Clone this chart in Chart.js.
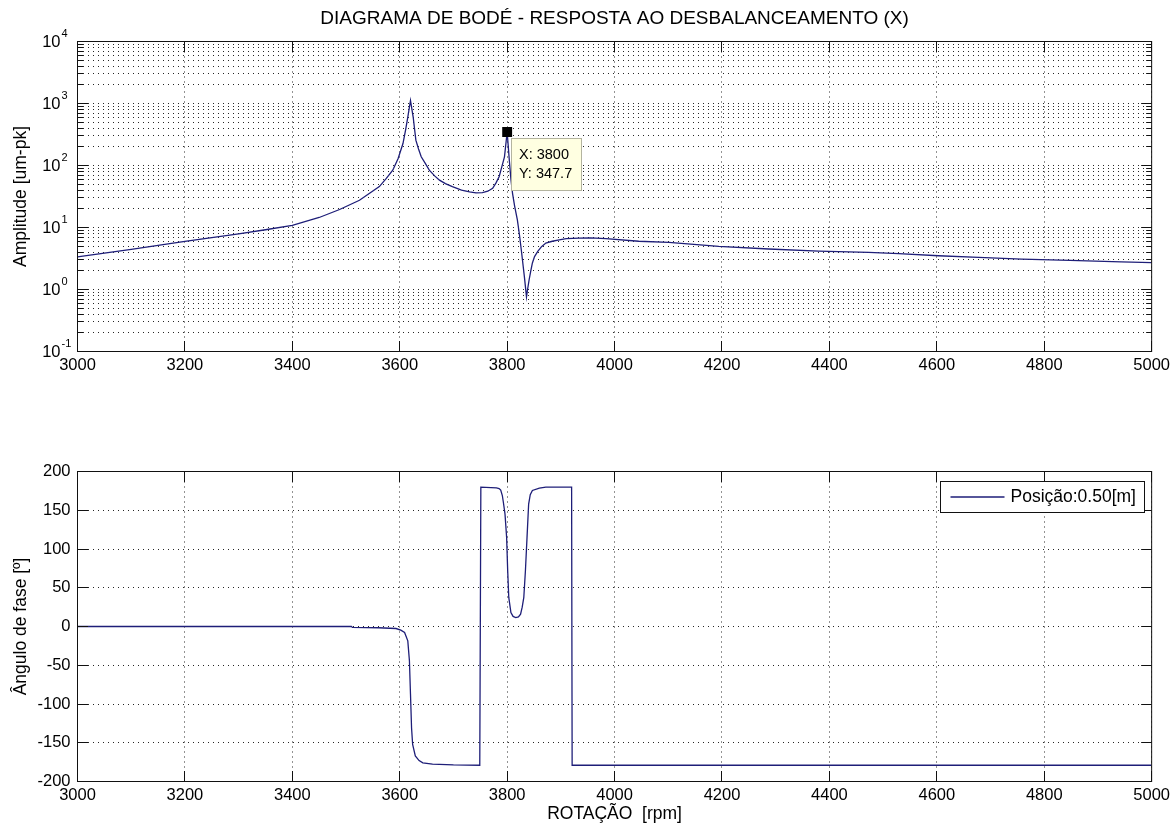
<!DOCTYPE html>
<html lang="pt">
<head>
<meta charset="utf-8">
<title>Diagrama de Bodé</title>
<script src="https://cdn.jsdelivr.net/npm/chart.js@4.4.1/dist/chart.umd.min.js"></script>
<style>
html,body{margin:0;padding:0;background:#fff;overflow:hidden}
#wrap{position:relative;width:1174px;height:829px;background:#fff}
canvas{position:absolute;left:0;display:block}
#top{top:0}
#bottom{top:400px}
</style>
</head>
<body>
<div id="wrap">
<canvas id="top" width="1174" height="400"></canvas>
<canvas id="bottom" width="1174" height="429"></canvas>
</div>
<script>
// ---- texts ----
const chartTitle = 'DIAGRAMA DE BODÉ - RESPOSTA AO DESBALANCEAMENTO (X)';
const ampAxisTitle = 'Amplitude [um-pk]';
const phaseAxisTitle = 'Ângulo de fase [º]';
const rpmAxisTitle = 'ROTAÇÃO  [rpm]';
const seriesLabel = 'Posição:0.50[m]';

// ---- ticks ----
const rpmTicks = [3000, 3200, 3400, 3600, 3800, 4000, 4200, 4400, 4600, 4800, 5000];
const ampDecades = [-1, 0, 1, 2, 3, 4];
const phaseTicks = [-200, -150, -100, -50, 0, 50, 100, 150, 200];

// ---- amplitude series ----
const ampRpm = [3000,3050,3100,3150,3200,3250,3300,3350,3400,3450,3488,3525,3562,3575,3587,3597,3606,3611,3615,3620,3625,3630,3635,3640,3647,3655,3665,3674,3685,3698,3715,3730,3742,3754,3764,3773,3779,3785,3790,3795,3800,3804,3807,3810,3814,3819,3823,3827,3832,3836,3838,3841,3844,3847,3851,3857,3864,3872,3884,3897,3910,3934,3955,3984,4045,4101,4194,4287,4380,4473,4529,4603,4678,4758,4848,4943,5000];
const ampValues = [3.35,3.85,4.45,5.15,5.95,6.85,7.9,9.2,10.8,14.5,19.5,27.5,45.7,62,84,130,226,380,605,1120,605,256,185,138,110,84,68,58,51,45.5,40,37.4,36.3,36.5,38.5,42.9,52,66,95,138,347.7,122,60,35.6,22,13.3,7.5,3.88,1.63,0.76,1.0,1.45,2.0,2.68,3.4,4.12,4.9,5.6,6.0,6.3,6.6,6.76,6.8,6.6,6.0,5.74,4.95,4.5,4.17,3.97,3.8,3.5,3.3,3.1,2.95,2.78,2.72];

// ---- phase series ----
const phaseRpm = [3000,3510,3512,3560,3593,3602,3609,3615,3618,3620,3622,3624,3629,3636,3643,3661,3700,3749,3751,3780,3785,3788,3791,3793,3796,3799,3801,3803,3807,3811,3816,3821,3825,3828,3831,3834,3837,3840,3843,3847,3860,3872,3920,3921,5000];
const phaseValues = [0,0,-1.2,-1.6,-2.6,-4.7,-7.7,-18.5,-44,-87,-131,-152,-167,-173,-176,-177.5,-178.5,-179,179.8,179,178,176,169,160,145,115,72,37.5,18,13,11.6,12.5,16,25,37.5,72,115,158,170,175.5,178.5,179.8,179.8,-179,-179];

// ---- data tip ----
const tipRpm = 3800;
const tipAmp = 347.7;

// ---- styling ----
const FONT = "'Liberation Sans', Arial, Helvetica, sans-serif";
Chart.defaults.font.family = FONT;
Chart.defaults.color = '#000';
const INK = '#111';
const GRID = 'rgba(0,0,0,0.85)';
const LINE = '#1e1e78';
const TICK_FONT = 16.5;
const LABEL_FONT = 17.5;

const logTicks = [];
ampDecades.forEach((e, i) => {
  const base = Math.pow(10, e);
  if (i === ampDecades.length - 1) { logTicks.push(base); return; }
  for (let m = 1; m <= 9; m++) logTicks.push(+(m * base).toPrecision(3));
});
const logMajor = ampDecades.map(e => Math.pow(10, e));
const logMinor = logTicks.filter(v => !logMajor.includes(v));

const crisp = p => Math.round(p - 0.5) + 0.5;

const axesFrame = {
  id: 'axesFrame',
  afterDraw(chart, args, o) {
    const {ctx, chartArea: a} = chart;
    const xs = chart.scales.x, ys = chart.scales.y;
    ctx.save();
    ctx.setLineDash([]);
    ctx.strokeStyle = INK;
    ctx.lineWidth = 1;
    ctx.beginPath();
    o.xTicks.forEach(v => {
      const px = crisp(xs.getPixelForValue(v));
      ctx.moveTo(px, a.bottom); ctx.lineTo(px, a.bottom - o.major);
      ctx.moveTo(px, a.top); ctx.lineTo(px, a.top + o.major);
    });
    o.yMajor.forEach(v => {
      const py = crisp(ys.getPixelForValue(v));
      ctx.moveTo(a.left, py); ctx.lineTo(a.left + o.major, py);
      ctx.moveTo(a.right, py); ctx.lineTo(a.right - o.major, py);
    });
    (o.yMinor || []).forEach(v => {
      const py = crisp(ys.getPixelForValue(v));
      ctx.moveTo(a.left, py); ctx.lineTo(a.left + o.minor, py);
      ctx.moveTo(a.right, py); ctx.lineTo(a.right - o.minor, py);
    });
    ctx.stroke();
    ctx.strokeRect(a.left, a.top, a.right - a.left, a.bottom - a.top);
    ctx.restore();
  }
};

const logLabels = {
  id: 'logLabels',
  afterDraw(chart) {
    const {ctx, chartArea: a} = chart;
    const ys = chart.scales.y;
    ctx.save();
    ctx.fillStyle = '#000';
    ampDecades.forEach(e => {
      const py = ys.getPixelForValue(Math.pow(10, e));
      ctx.font = `${TICK_FONT}px ${FONT}`;
      ctx.textAlign = 'right';
      ctx.textBaseline = 'middle';
      ctx.fillText('10', a.left - 17, py + 1);
      ctx.font = `11px ${FONT}`;
      ctx.textAlign = 'left';
      ctx.fillText(String(e), a.left - 16, py - 7.5);
    });
    ctx.restore();
  }
};

const dataTip = {
  id: 'dataTip',
  afterDatasetsDraw(chart) {
    const {ctx} = chart;
    const px = chart.scales.x.getPixelForValue(tipRpm);
    const py = chart.scales.y.getPixelForValue(tipAmp);
    const bx = crisp(px + 4), by = crisp(py + 6.5);
    ctx.save();
    ctx.setLineDash([]);
    ctx.fillStyle = '#ffffe1';
    ctx.fillRect(bx, by, 70, 52);
    ctx.strokeStyle = '#b4b4a0';
    ctx.lineWidth = 1;
    ctx.strokeRect(bx, by, 70, 52);
    ctx.fillStyle = '#000';
    ctx.font = `14.5px ${FONT}`;
    ctx.textAlign = 'left';
    ctx.textBaseline = 'middle';
    ctx.fillText(`X: ${tipRpm}`, bx + 7.5, by + 16);
    ctx.fillText(`Y: ${tipAmp}`, bx + 7.5, by + 35);
    ctx.restore();
  }
};

const boxLegend = {
  id: 'boxLegend',
  afterDraw(chart) {
    const {ctx, chartArea: a} = chart;
    const ds = chart.data.datasets[0];
    ctx.save();
    ctx.setLineDash([]);
    ctx.font = `${LABEL_FONT}px ${FONT}`;
    const tw = ctx.measureText(ds.label).width;
    const right = crisp(a.right - 7);
    const w = Math.round(10 + 54 + 6 + tw + 9);
    const left = right - w, top = crisp(a.top + 10), h = 31;
    ctx.fillStyle = '#fff';
    ctx.fillRect(left, top, w, h);
    ctx.strokeStyle = INK;
    ctx.lineWidth = 1;
    ctx.strokeRect(left, top, w, h);
    ctx.strokeStyle = ds.borderColor;
    ctx.lineWidth = ds.borderWidth;
    ctx.beginPath();
    ctx.moveTo(left + 10, top + 15.5);
    ctx.lineTo(left + 64, top + 15.5);
    ctx.stroke();
    ctx.fillStyle = '#000';
    ctx.textAlign = 'left';
    ctx.textBaseline = 'middle';
    ctx.fillText(ds.label, left + 70, top + 16);
    ctx.restore();
  }
};

const gridOpts = { color: GRID, lineWidth: 1, drawTicks: false };
const borderOpts = { display: false, dash: [1, 4] };
const xTickOpts = { callback: v => String(v), font: { size: TICK_FONT }, color: '#000', padding: 4, maxRotation: 0, autoSkip: false };

new Chart(document.getElementById('top'), {
  type: 'line',
  data: {
    datasets: [
      { label: 'datatip', data: [{ x: tipRpm, y: tipAmp }], showLine: false, pointStyle: 'rect', pointRadius: 7, pointHoverRadius: 7, backgroundColor: '#000', borderColor: '#000', borderWidth: 0, order: 0 },
      { label: seriesLabel, data: ampRpm.map((r, i) => ({ x: r, y: ampValues[i] })), borderColor: LINE, borderWidth: 1.3, pointRadius: 0, tension: 0, fill: false, order: 1 }
    ]
  },
  options: {
    responsive: false, animation: false, devicePixelRatio: 1, events: [],
    layout: { padding: { left: 0, right: 20.5, top: 0, bottom: 0 } },
    plugins: {
      legend: { display: false }, tooltip: { enabled: false },
      title: { display: true, text: chartTitle, fullSize: false, color: '#000', font: { size: 19, weight: 'normal' }, padding: { top: 7, bottom: 11.7 } },
      axesFrame: { xTicks: rpmTicks, yMajor: logMajor, yMinor: logMinor, major: 10.5, minor: 5.5 }
    },
    scales: {
      x: {
        type: 'linear', min: 3000, max: 5000,
        afterBuildTicks: s => { s.ticks = rpmTicks.map(v => ({ value: v })); },
        afterFit: s => { s.height = 48.5; },
        ticks: xTickOpts, grid: gridOpts, border: borderOpts
      },
      y: {
        type: 'logarithmic', min: 0.1, max: 10000,
        afterBuildTicks: s => { s.ticks = logTicks.map(v => ({ value: v })); },
        afterFit: s => { s.width = 77.5; },
        ticks: { display: false }, grid: gridOpts, border: borderOpts,
        title: { display: true, text: ampAxisTitle, color: '#000', font: { size: LABEL_FONT }, padding: { top: 11, bottom: 0 } }
      }
    }
  },
  plugins: [axesFrame, logLabels, dataTip]
});

new Chart(document.getElementById('bottom'), {
  type: 'line',
  data: {
    datasets: [
      { label: seriesLabel, data: phaseRpm.map((r, i) => ({ x: r, y: phaseValues[i] })), borderColor: LINE, borderWidth: 1.3, pointRadius: 0, tension: 0, fill: false }
    ]
  },
  options: {
    responsive: false, animation: false, devicePixelRatio: 1, events: [],
    layout: { padding: { left: 0, right: 20.5, top: 71.5, bottom: 0 } },
    plugins: {
      legend: { display: false }, tooltip: { enabled: false },
      axesFrame: { xTicks: rpmTicks, yMajor: phaseTicks, major: 10.5 }
    },
    scales: {
      x: {
        type: 'linear', min: 3000, max: 5000,
        afterBuildTicks: s => { s.ticks = rpmTicks.map(v => ({ value: v })); },
        afterFit: s => { s.height = 47.5; },
        ticks: xTickOpts, grid: gridOpts, border: borderOpts,
        title: { display: true, text: rpmAxisTitle, color: '#000', font: { size: LABEL_FONT }, padding: { top: 0, bottom: 4.5 } }
      },
      y: {
        type: 'linear', min: -200, max: 200,
        afterBuildTicks: s => { s.ticks = phaseTicks.map(v => ({ value: v })); },
        afterFit: s => { s.width = 77.5; },
        ticks: { callback: v => String(v), font: { size: TICK_FONT }, color: '#000', padding: 7, autoSkip: false },
        grid: gridOpts, border: borderOpts,
        title: { display: true, text: phaseAxisTitle, color: '#000', font: { size: LABEL_FONT }, padding: { top: 11, bottom: 0 } }
      }
    }
  },
  plugins: [axesFrame, boxLegend]
});
</script>
</body>
</html>
